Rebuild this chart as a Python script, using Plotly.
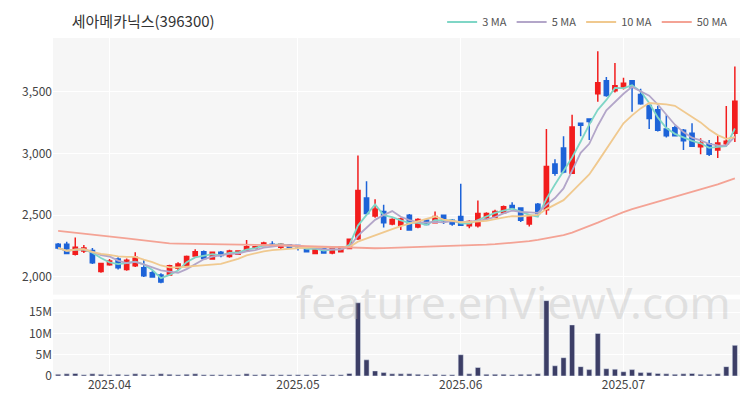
import pandas as pd
import plotly.graph_objects as go
from plotly.subplots import make_subplots

holidays = ["2025-05-01", "2025-05-05", "2025-05-06", "2025-06-03", "2025-06-06"]
all_days = [d.strftime("%Y-%m-%d") for d in pd.bdate_range("2025-03-24", "2025-07-25") if d.strftime("%Y-%m-%d") not in holidays]

opens = [2265,2265,2185,2210,2215,2045,2100,2145,2060,2090,2075,2035,2015,2015,2070,2085,2170,2205,2145,2200,
         2165,2185,2210,2235,2255,2265,2240,2260,2255,2230,2190,2230,2195,2205,2230,2310,2640,2495,2530,2430,
         2420,2500,2405,2460,2440,2500,2460,2490,2415,2415,2480,2485,2520,2580,2560,2430,2590,2545,2915,3045,
         2840,3245,3280,3485,3590,3510,3535,3590,3480,3390,3355,3200,3210,3190,3165,3055,3080,3030,3080,3165]
highs = [2275,2285,2320,2260,2235,2115,2145,2160,2150,2200,2135,2050,2030,2100,2120,2175,2225,2215,2205,2210,
         2220,2215,2300,2250,2285,2290,2275,2265,2260,2235,2245,2235,2235,2250,2310,2985,2775,2630,2585,2475,
         2480,2510,2475,2470,2530,2505,2470,2755,2460,2620,2525,2545,2580,2605,2565,2500,2600,3200,2955,3140,
         3315,3250,3285,3830,3620,3735,3615,3595,3525,3395,3385,3310,3225,3200,3245,3125,3110,3145,3385,3705]
lows = [2225,2185,2175,2195,2105,2035,2090,2060,2050,2080,2000,1995,1950,2010,2055,2080,2165,2140,2140,2160,
        2155,2180,2205,2230,2250,2250,2225,2230,2215,2200,2185,2190,2185,2200,2225,2300,2505,2480,2400,2420,
        2380,2375,2395,2420,2435,2430,2415,2415,2395,2400,2470,2475,2515,2555,2445,2410,2490,2505,2820,2840,
        2835,3140,3110,3420,3460,3495,3520,3340,3395,3200,3180,3130,3140,3030,3055,2995,2980,2965,3070,3095]
closes = [2235,2190,2240,2235,2115,2110,2130,2075,2135,2160,2010,2000,1960,2090,2105,2165,2205,2150,2200,2175,
          2210,2210,2245,2245,2275,2255,2265,2235,2245,2205,2240,2195,2230,2245,2305,2700,2515,2550,2440,2465,
          2470,2380,2465,2425,2490,2455,2430,2420,2450,2515,2515,2530,2570,2560,2460,2490,2515,2895,2840,2850,
          3215,3230,3260,3575,3470,3550,3570,3540,3405,3285,3190,3145,3145,3105,3060,3085,2995,3085,3100,3425]
volumes_m = [0.4,0.5,0.6,0.3,0.5,0.4,0.3,0.4,0.3,0.5,0.4,0.3,0.5,0.4,0.3,0.4,0.5,0.3,0.3,0.3,
             0.3,0.3,0.5,0.3,0.4,0.3,0.3,0.3,0.3,0.3,0.3,0.3,0.3,0.3,0.6,17.2,3.8,1.2,0.8,0.5,
             0.5,0.5,0.4,0.3,0.4,0.3,0.3,5.0,0.5,2.0,0.4,0.4,0.4,0.3,0.4,0.4,0.5,17.7,2.4,4.3,
             12.0,2.2,1.5,10.0,1.7,1.6,1.0,1.5,0.8,0.8,0.6,0.5,0.4,0.5,0.6,0.4,0.4,0.5,2.2,7.2]
ma50 = [2373,2366,2358,2350,2343,2335,2327,2320,2312,2304,2296,2288,2280,2272,
        2270,2269,2268,2268,2267,2267,2267,2267,2265,2263,2261,2259,2257,2255,2252,2250,2247,2244,2241,2238,2235,2233,
        2232,2233,2234,2236,2238,2240,2242,2244,2246,2248,2250,2252,2255,2258,2262,2266,2271,2277,2283,2290,2300,
        2312,2325,2340,2360,2385,2410,2440,2470,2500,2525,2550,2570,2590,2610,2630,2650,2668,2685,2704,2725,2750,2775,2800]
month_labels = ["2025.04", "2025.05", "2025.06", "2025.07"]

n = len(closes)
dates = all_days[:n]
xi = list(range(n))
month_ticks = [next(i for i, d in enumerate(dates) if d.startswith(m.replace(".", "-"))) for m in month_labels]

cs = pd.Series(closes)
ma3 = cs.rolling(3, min_periods=1).mean()
ma5 = cs.rolling(5, min_periods=1).mean()
ma10 = cs.rolling(10, min_periods=1).mean()

fig = make_subplots(rows=2, cols=1, shared_xaxes=True, row_heights=[0.77, 0.23], vertical_spacing=0.014)
fig.add_trace(go.Candlestick(x=xi, open=opens, high=highs, low=lows, close=closes, text=dates,
                             increasing=dict(line=dict(color="#f21d1d", width=1.5), fillcolor="#f21d1d"),
                             decreasing=dict(line=dict(color="#1d63d8", width=1.5), fillcolor="#1d63d8"),
                             whiskerwidth=0, showlegend=False), row=1, col=1)
for name, s, c in [("3 MA", ma3, "#7fd6c6"), ("5 MA", ma5, "#b3a6c9"), ("10 MA", ma10, "#f0c98f"), ("50 MA", ma50, "#f4a395")]:
    fig.add_trace(go.Scatter(x=xi, y=list(s), mode="lines", name=name, line=dict(color=c, width=1.8)), row=1, col=1)
fig.add_trace(go.Bar(x=xi, y=[v * 1e6 for v in volumes_m], marker_color="#3c3e66", showlegend=False, width=0.6), row=2, col=1)

for r in (1, 2):
    fig.update_xaxes(tickvals=month_ticks, ticktext=month_labels, showgrid=True, gridcolor="#ffffff",
                     rangeslider_visible=False, tickfont=dict(size=12, color="#444"), ticks="", zeroline=False,
                     range=[-0.6, n - 0.4], row=r, col=1)
fig.update_xaxes(showticklabels=False, row=1, col=1)
fig.update_yaxes(range=[1857, 3937], tickvals=[2000, 2500, 3000, 3500], tickformat=",", gridcolor="#ffffff",
                 tickfont=dict(size=12, color="#444"), row=1, col=1)
fig.update_yaxes(range=[0, 18e6], tickvals=[0, 5e6, 10e6, 15e6], ticktext=["0", "5M", "10M", "15M"], gridcolor="#ffffff",
                 tickfont=dict(size=12, color="#444"), zeroline=False, row=2, col=1)
fig.update_layout(width=750, height=400, margin=dict(l=45, r=18, t=30, b=32, autoexpand=False),
                  paper_bgcolor="white", plot_bgcolor="#f6f6f6",
                  font=dict(family="Noto Sans CJK KR, Noto Sans, sans-serif"),
                  title=dict(text="세아메카닉스(396300)", x=0.085, y=0.965, xanchor="left", yanchor="middle", font=dict(size=15, color="#333")),
                  legend=dict(orientation="h", x=0.99, xanchor="right", yref="container", y=0.965, yanchor="middle",
                              font=dict(size=11, color="#555")),
                  bargap=0.3)
fig.add_annotation(text="feature.enViewV.com", xref="paper", yref="paper", x=0.99, y=0.22, xanchor="right", yanchor="middle",
                   showarrow=False, font=dict(size=44, color="rgba(180,180,180,0.35)", family="Noto Sans"))
fig.write_html("out.html")
